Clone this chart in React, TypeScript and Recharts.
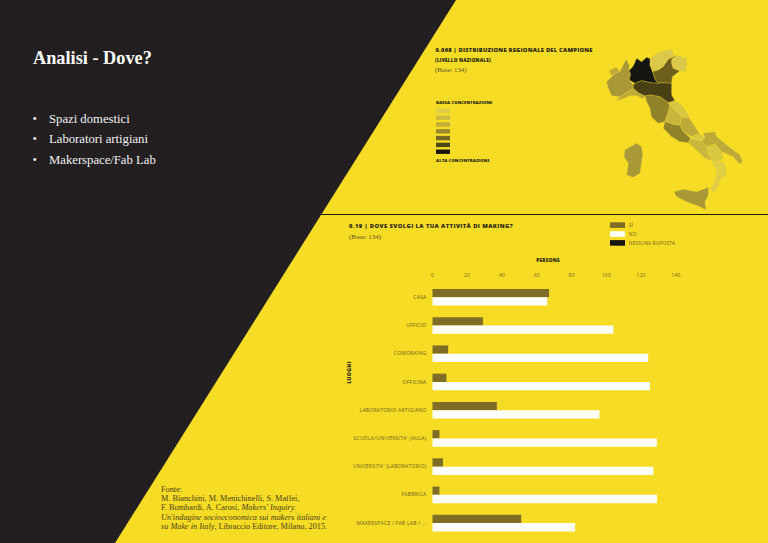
import { BarChart, Bar, XAxis, YAxis } from "recharts";

const luoghi = [
  "CASA",
  "UFFICIO",
  "COWORKING",
  "OFFICINA",
  "LABORATORIO ARTIGIANO",
  "SCUOLA/UNIVERSITA' (AULA)",
  "UNIVERSITA' (LABORATORIO)",
  "FABBRICA",
  "MAKERSPACE / FAB LAB / ...",
];
const si = [67, 29, 9, 8, 37, 4, 6, 4, 51];
const no = [66, 104, 124, 125, 96, 129, 127, 129, 82];
const ticksPersone = [0, 20, 40, 60, 80, 100, 120, 140];

const rispostaLabels = ["SÌ", "NO", "NESSUNA RISPOSTA"];
const rispostaColors = ["#7f6d25", "#ffffff", "#17150f"];
const scalaColors = ["#dfce47", "#cdbc3f", "#bfad38", "#99882c", "#766720", "#4d4416", "#17150f"];
const bullets = ["Spazi domestici", "Laboratori artigiani", "Makerspace/Fab Lab"];

const data = luoghi.map((name, i) => ({ name, si: si[i], no: no[i] }));

const YELLOW = "#f6dc24";
const DARK = "#231f20";
const INK = "#2a2612";
const LABEL = "#6d6120";
const SANS = "'Open Sans', sans-serif";
const SERIF = "'Liberation Serif', serif";

// Sagome regionali, solo decorazione (coordinate in scala 3x)
const regioni: [string, string][] = [
  ["#a89836", "585,130 600,125 618,88 628,105 627,122 632,132 628,150 640,165 640,175 625,185 600,200 575,197 565,175 560,155 575,140"],
  ["#bca938", "567,122 590,112 600,125 585,130 575,137"],
  ["#bca938", "588,213 600,200 625,185 640,175 655,188 675,198 670,207 650,197 630,197 608,207"],
  ["#17150f", "627,122 640,108 650,85 665,95 680,82 695,88 690,105 698,125 705,148 715,160 690,158 665,152 645,160 628,150 632,132"],
  ["#dcc94a", "690,85 720,65 755,58 762,75 745,88 730,110 715,120 698,125 690,105"],
  ["#6e5f1c", "698,125 715,120 730,110 745,88 770,76 755,100 760,115 780,122 757,140 755,160 725,158 715,160 705,148"],
  ["#dcc94a", "755,88 770,76 800,85 802,105 795,125 780,122 760,115 755,100"],
  ["#4a4015", "640,165 645,160 665,152 690,158 715,160 725,158 755,160 755,195 765,212 745,218 720,200 690,195 675,198 655,188 640,175"],
  ["#8f8228", "675,198 690,195 720,200 745,218 750,225 745,245 735,275 715,280 695,262 690,235 680,215"],
  ["#d8c640", "745,218 765,212 785,225 805,255 808,265 785,262 760,235 750,225"],
  ["#c9b63c", "750,225 760,235 785,262 780,285 765,285 735,275 745,245"],
  ["#8f8228", "735,275 765,285 780,285 790,305 812,325 805,338 780,335 755,320 730,295"],
  ["#bca938", "785,262 808,265 838,310 815,320 790,305 780,285"],
  ["#d8c640", "815,320 838,310 855,325 845,333 825,330"],
  ["#c9b63c", "812,325 825,330 845,333 860,350 865,372 875,392 855,385 835,365 805,338"],
  ["#bca938", "855,325 850,310 885,305 890,320 920,345 960,375 968,395 958,402 940,380 905,365 885,342 860,350 845,333"],
  ["#d8c640", "860,350 885,342 905,365 910,385 895,395 875,392 865,372"],
  ["#e0cf45", "875,392 895,395 910,395 920,415 918,435 900,450 895,470 880,487 870,478 885,455 890,425"],
  ["#a89836", "762,485 790,478 830,485 865,472 865,495 855,515 858,540 840,530 800,515 770,500"],
  ["#a89836", "615,360 650,340 665,350 668,375 660,430 640,442 620,435 625,400 612,380"],
];

function LuogoTick({ y, payload }: any) {
  return (
    <text x={426.5} y={y + 1.8} textAnchor="end" fontFamily={SANS} fontSize={5} letterSpacing={0.25} fill={LABEL}>
      {payload.value}
    </text>
  );
}

function Sfondo() {
  const heading = { fontFamily: SANS, fontWeight: 800, fill: INK };
  return (
    <svg width={768} height={543} style={{ position: "absolute", left: 0, top: 0 }}>
      <rect width={768} height={543} fill={YELLOW} />
      <polygon points="0,0 456,0 115,543 0,543" fill={DARK} />
      <line x1={319} y1={214.5} x2={768} y2={214.5} stroke="#1c1a10" strokeWidth={1.2} />

      <text x={33} y={64} fontFamily={SERIF} fontWeight={700} fontSize={18.3} fill="#fff">
        Analisi - Dove?
      </text>
      {bullets.map((b, i) => (
        <g key={b} fontFamily={SERIF} fontSize={12.7} fill="#f2f2f2">
          <text x={32.5} y={123 + i * 20.3}>•</text>
          <text x={49} y={123 + i * 20.3}>{b}</text>
        </g>
      ))}

      <g fontFamily={SERIF} fontSize={8.25} fill="#4a4218">
        <text x={161} y={491.5}>Fonte:</text>
        <text x={161} y={500.5}>M. Bianchini, M. Menichinelli, S. Maffei,</text>
        <text x={161} y={510}>
          F. Bombardi, A. Carosi, <tspan fontStyle="italic">Makers' Inquiry.</tspan>
        </text>
        <text x={161} y={519.5} fontStyle="italic">Un'indagine socioeconomica sui makers italiani e</text>
        <text x={161} y={529}>
          <tspan fontStyle="italic">su Make in Italy</tspan>, Libraccio Editore, Milano, 2015.
        </text>
      </g>

      <text x={435.5} y={52} fontSize={5.8} letterSpacing={0.22} {...heading}>
        0.068 | DISTRIBUZIONE REGIONALE DEL CAMPIONE
      </text>
      <text x={435} y={62} fontSize={4.7} letterSpacing={0.2} {...heading}>
        (LIVELLO NAZIONALE)
      </text>
      <text x={435} y={72} fontFamily={SERIF} fontSize={6.8} fill="#5c5320">(Base: 134)</text>

      <text x={436} y={104} fontSize={4.2} letterSpacing={0.1} {...heading}>BASSA CONCENTRAZIONE</text>
      {scalaColors.map((c, i) => (
        <rect key={c} x={436} y={108.7 + i * 6.8} width={14} height={4.4} fill={c} />
      ))}
      <text x={436} y={162} fontSize={4.2} letterSpacing={0.1} {...heading}>ALTA CONCENTRAZIONE</text>

      <g transform="translate(420 30) scale(0.3333)" stroke="#e8d23a" strokeWidth={1} strokeLinejoin="round">
        {regioni.map(([fill, points]) => (
          <polygon key={points} points={points} fill={fill} />
        ))}
      </g>

      <text x={349} y={227.5} fontSize={5.8} letterSpacing={0.42} {...heading}>
        0.19 | DOVE SVOLGI LA TUA ATTIVITÀ DI MAKING?
      </text>
      <text x={349} y={238.5} fontFamily={SERIF} fontSize={6.9} fill="#5c5320">(Base: 134)</text>

      {rispostaLabels.map((label, i) => (
        <g key={label}>
          <rect x={610} y={222.3 + i * 8.9} width={15} height={5.6} fill={rispostaColors[i]} />
          <text x={629} y={226.9 + i * 8.9} fontFamily={SANS} fontSize={4.6} letterSpacing={0.2} fill={LABEL}>
            {label}
          </text>
        </g>
      ))}

      <text x={548} y={261.5} textAnchor="middle" fontSize={4.8} letterSpacing={0.2} {...heading}>PERSONE</text>
      <text
        transform="translate(350.5 372.5) rotate(-90)"
        textAnchor="middle"
        fontSize={5.2}
        letterSpacing={0.3}
        {...heading}
      >
        LUOGHI
      </text>
    </svg>
  );
}

export default function App() {
  return (
    <div style={{ position: "absolute", left: 0, top: 0, width: 768, height: 543, overflow: "hidden" }}>
      <Sfondo />
      <div style={{ position: "absolute", left: 0, top: 0 }}>
        <BarChart
          width={768}
          height={543}
          data={data}
          layout="vertical"
          barSize={8.3}
          barGap={0}
          margin={{ top: 263, right: 92, bottom: 6, left: 300 }}
        >
          <XAxis
            type="number"
            orientation="top"
            domain={[0, 140]}
            ticks={ticksPersone}
            height={20}
            axisLine={false}
            tickLine={false}
            tickMargin={0}
            tick={{ fontFamily: SANS, fontSize: 5, letterSpacing: 0.3, fill: LABEL }}
          />
          <YAxis
            type="category"
            dataKey="name"
            width={132.5}
            interval={0}
            axisLine={false}
            tickLine={false}
            tick={<LuogoTick />}
          />
          <Bar dataKey="si" fill={rispostaColors[0]} isAnimationActive={false} />
          <Bar dataKey="no" fill={rispostaColors[1]} isAnimationActive={false} />
        </BarChart>
      </div>
    </div>
  );
}
